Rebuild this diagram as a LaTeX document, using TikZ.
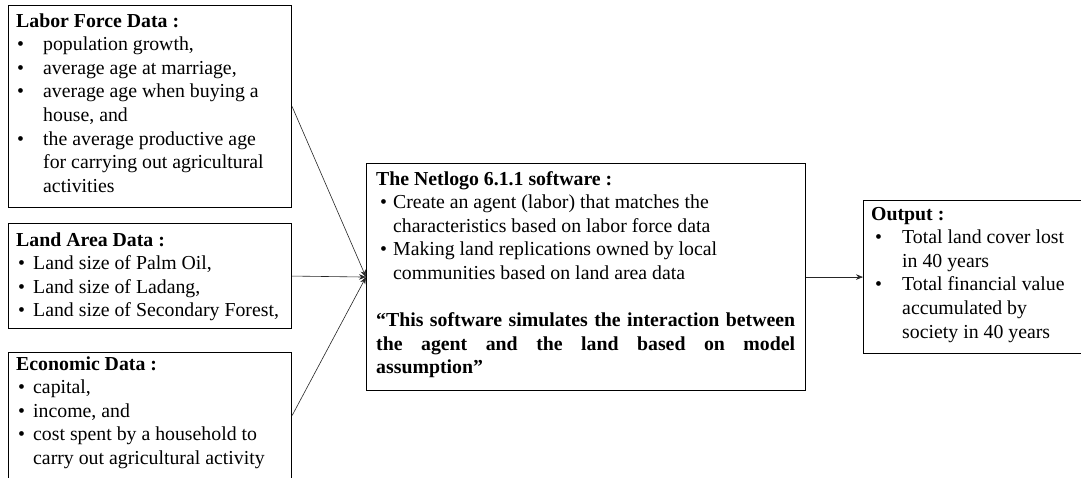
\documentclass[tikz,border=0pt]{standalone}
\usepackage{fontspec}
\setmainfont{Liberation Serif}
\usetikzlibrary{arrows.meta}
\newcommand\bul[2]{\hspace*{#1}\makebox[#2][l]{•}}
\begin{document}
\begin{tikzpicture}[x=1pt,y=-1pt,
  boxnode/.style={draw=black, line width=1.1pt, inner sep=0pt, anchor=north west},
  txt/.style={inner sep=0pt, anchor=base west, font=\fontsize{19.8}{23.6}\selectfont},
  conn/.style={draw=black!85, line width=0.6pt, -{Stealth[length=7pt,width=5.5pt]}}]
\clip (0,0) rectangle (1081,477);
\fill[white] (0,0) rectangle (1081,477);
% boxes
\node[boxnode, minimum width=283pt, minimum height=202pt] (labor) at (8,5) {};
\node[boxnode, minimum width=283pt, minimum height=105pt] (land) at (8,223) {};
\node[boxnode, minimum width=283pt, minimum height=126pt] (econ) at (8,352) {};
\node[boxnode, minimum width=439pt, minimum height=227pt] (mid) at (366,163) {};
\node[boxnode, minimum width=240pt, minimum height=153pt] (out) at (863,200) {};
% texts
\node[txt] (laborT) at (16,27) {\parbox[t]{272pt}{\raggedright
\textbf{Labor Force Data :}\\
\bul{1pt}{26pt}population growth,\\
\bul{1pt}{26pt}average age at marriage,\\
\bul{1pt}{26pt}average age when buying a\\
\hspace*{27pt}house, and\\
\bul{1pt}{26pt}the average productive age\\
\hspace*{27pt}for carrying out agricultural\\
\hspace*{27pt}activities}};
\node[txt] (landT) at (16,246) {\parbox[t]{272pt}{\raggedright
\textbf{Land Area Data :}\\
\bul{2pt}{15pt}Land size of Palm Oil,\\
\bul{2pt}{15pt}Land size of Ladang,\\
\bul{2pt}{15pt}Land size of Secondary Forest,}};
\node[txt] (econT) at (16,370) {\parbox[t]{272pt}{\raggedright
\textbf{Economic Data :}\\
\bul{2pt}{15pt}capital,\\
\bul{2pt}{15pt}income, and\\
\bul{2pt}{15pt}cost spent by a household to\\
\hspace*{17pt}carry out agricultural activity}};
\node[txt] (midT) at (376,185) {\parbox[t]{425pt}{\raggedright
\textbf{The Netlogo 6.1.1 software :}\\
\bul{4pt}{13pt}Create an agent (labor) that matches the\\
\hspace*{17pt}characteristics based on labor force data\\
\bul{4pt}{13pt}Making land replications owned by local\\
\hspace*{17pt}communities based on land area data\\
\mbox{}\\
\textbf{\makebox[419pt][s]{“This software simulates the interaction between}}\\
\textbf{\makebox[419pt][s]{the agent and the land based on model}}\\
\textbf{assumption”}}};
\node[txt] (outT) at (871,220) {\parbox[t]{205pt}{\raggedright
\textbf{Output :}\\
\bul{4pt}{27pt}Total land cover lost\\
\hspace*{31pt}in 40 years\\
\bul{4pt}{27pt}Total financial value\\
\hspace*{31pt}accumulated by\\
\hspace*{31pt}society in 40 years}};
% connectors
\draw[conn] (labor.east) -- (mid.west);
\draw[conn] (land.east) -- (mid.west);
\draw[conn] (econ.east) -- (mid.west);
\draw[conn] (mid.east) -- (out.west);
\end{tikzpicture}
\end{document}
